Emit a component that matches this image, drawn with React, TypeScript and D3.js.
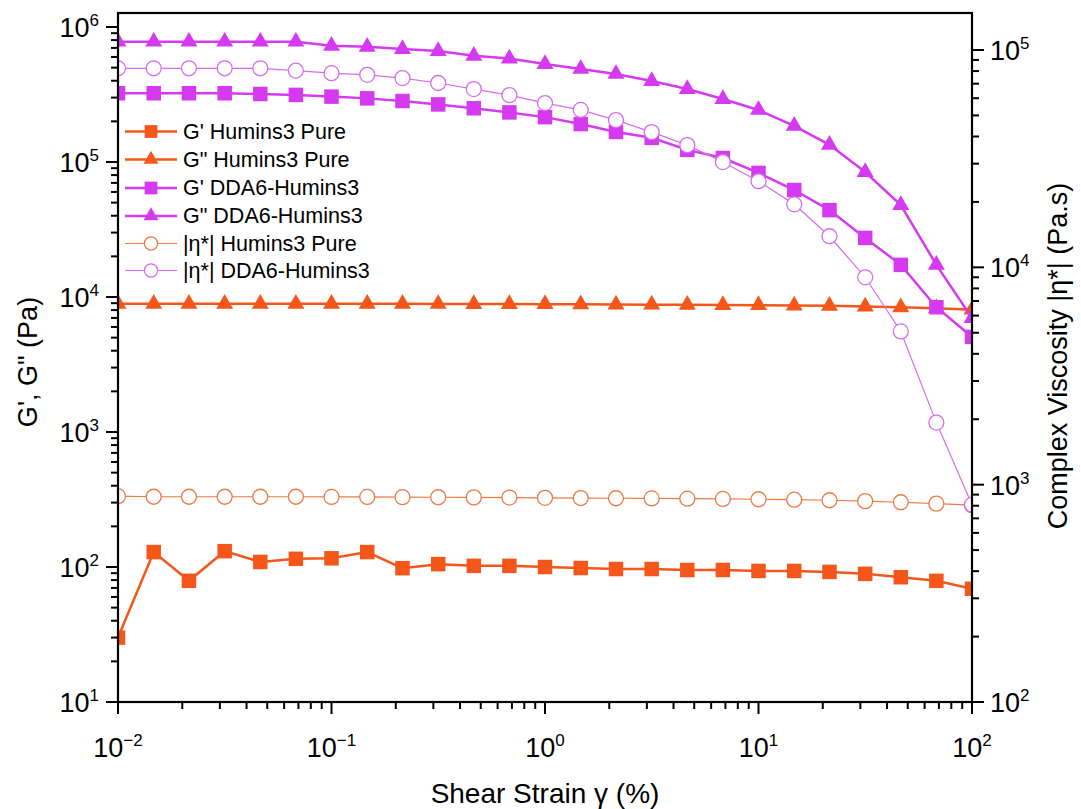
import React from "react";
import * as d3 from "d3";

const strain = [0.01, 0.0147, 0.0215, 0.0316, 0.0464, 0.0681, 0.1, 0.147, 0.215, 0.316, 0.464, 0.681, 1, 1.47, 2.15, 3.16, 4.64, 6.81, 10, 14.7, 21.5, 31.6, 46.4, 68.1, 100];

const gPrimeHumins = [30, 129, 79, 131, 109, 115, 116, 129, 98, 105, 102, 102, 100, 98.3, 96.6, 96.6, 95, 95, 93.5, 93.5, 92, 89, 84, 79, 69];
const gDoublePrimeHumins = [8900, 8900, 8900, 8900, 8900, 8900, 8900, 8900, 8900, 8880, 8870, 8860, 8850, 8820, 8800, 8780, 8750, 8720, 8700, 8650, 8600, 8500, 8400, 8250, 8050];
const gPrimeDDA6 = [323000, 323000, 323000, 323000, 319000, 314000, 305000, 296000, 283000, 267000, 250000, 233000, 215000, 191000, 167000, 151000, 123000, 107000, 83000, 62000, 44000, 27400, 17300, 8400, 5060];
const gDoublePrimeDDA6 = [778000, 778000, 778000, 778000, 778000, 778000, 726000, 714000, 687000, 664000, 612000, 584000, 532000, 489000, 449000, 398000, 347000, 293000, 243000, 185000, 134000, 84300, 48000, 17300, 6980];
const etaHumins = [885, 880, 880, 880, 880, 880, 878, 878, 876, 875, 874, 872, 870, 868, 866, 864, 862, 860, 857, 853, 848, 840, 830, 818, 805];
const etaDDA6 = [82400, 82400, 82400, 82400, 82400, 80400, 78200, 76900, 74300, 70500, 66100, 62000, 57000, 53000, 47600, 41900, 36500, 30500, 24900, 19500, 13900, 9000, 5070, 1930, 809];

const legendLabels = [
  "G' Humins3 Pure",
  'G" Humins3 Pure',
  "G' DDA6-Humins3",
  'G" DDA6-Humins3',
  "|η*| Humins3 Pure",
  "|η*| DDA6-Humins3",
];

const xTickExps = [-2, -1, 0, 1, 2];
const yLeftExps = [1, 2, 3, 4, 5, 6];
const yRightExps = [2, 3, 4, 5];

const ORANGE = "#F5571B";
const ORANGE_LIGHT = "#EE7A45";
const PURPLE = "#D63AF0";
const PURPLE_LIGHT = "#D66DF0";
const FONT = "'Liberation Sans', Arial, Helvetica, sans-serif";

export default function App() {
  const W = 1081, H = 809;
  const L = 118, R = 972, T = 13, B = 702;

  const x = d3.scaleLog().domain([0.01, 100]).range([L, R]);
  const yL = d3.scaleLog().domain([10, Math.pow(10, 6 + 14 / 135)]).range([B, T]);
  const yR = d3.scaleLog().domain([100, Math.pow(10, 5 + 37 / 217.3)]).range([B, T]);

  type Series = {
    data: number[];
    scale: d3.ScaleLogarithmic<number, number>;
    color: string;
    lineWidth: number;
    marker: "square" | "triangle" | "circle";
  };

  const series: Series[] = [
    { data: gPrimeHumins, scale: yL, color: ORANGE, lineWidth: 2.5, marker: "square" },
    { data: gDoublePrimeHumins, scale: yL, color: ORANGE, lineWidth: 2.5, marker: "triangle" },
    { data: gPrimeDDA6, scale: yL, color: PURPLE, lineWidth: 2.5, marker: "square" },
    { data: gDoublePrimeDDA6, scale: yL, color: PURPLE, lineWidth: 2.5, marker: "triangle" },
    { data: etaHumins, scale: yR, color: ORANGE_LIGHT, lineWidth: 1.2, marker: "circle" },
    { data: etaDDA6, scale: yR, color: PURPLE_LIGHT, lineWidth: 1.2, marker: "circle" },
  ];

  const triPath = (size: number) => d3.symbol().type(d3.symbolTriangle).size(size)() as string;

  const renderMarker = (m: string, color: string, cx: number, cy: number, k: string, scale = 1) => {
    if (m === "square") {
      const s = 14.5 * scale;
      return <rect key={k} x={cx - s / 2} y={cy - s / 2} width={s} height={s} fill={color} />;
    }
    if (m === "triangle") {
      return <path key={k} d={triPath(125 * scale * scale)} transform={`translate(${cx},${cy})`} fill={color} />;
    }
    return <circle key={k} cx={cx} cy={cy} r={7.5 * scale} fill="white" stroke={color} strokeWidth={1.3} />;
  };

  const minorTicks = (lo: number, hi: number) => {
    const out: number[] = [];
    for (let e = lo; e < hi; e++) {
      for (let m = 2; m <= 9; m++) out.push(m * Math.pow(10, e));
    }
    return out;
  };

  const line = (s: Series) =>
    d3.line<number>()
      .x((_, i) => x(strain[i]))
      .y((v) => s.scale(v))(s.data) as string;

  const legendRows = [131.5, 159.5, 188, 216, 243.5, 270.5];

  return (
    <svg width={W} height={H} style={{ position: "absolute", left: 0, top: 0, background: "white" }} fontFamily={FONT}>
      <rect x={0} y={0} width={W} height={H} fill="white" />
      <defs>
        <clipPath id="plotClip">
          <rect x={L} y={T} width={R - L} height={B - T} />
        </clipPath>
      </defs>

      <g clipPath="url(#plotClip)">
        {series.map((s, si) => (
          <g key={si}>
            <path d={line(s)} fill="none" stroke={s.color} strokeWidth={s.lineWidth} />
            {s.data.map((v, i) => renderMarker(s.marker, s.color, x(strain[i]), s.scale(v), `${si}-${i}`))}
          </g>
        ))}
      </g>

      {/* frame */}
      <rect x={L} y={T} width={R - L} height={B - T} fill="none" stroke="black" strokeWidth={2.2} />

      {/* bottom ticks */}
      {xTickExps.map((e) => {
        const px = x(Math.pow(10, e));
        return <line key={`xm${e}`} x1={px} x2={px} y1={B} y2={B + 12} stroke="black" strokeWidth={2} />;
      })}
      {minorTicks(-2, 2).map((v, i) => {
        const px = x(v);
        return <line key={`xn${i}`} x1={px} x2={px} y1={B} y2={B + 7} stroke="black" strokeWidth={2} />;
      })}
      {xTickExps.map((e) => (
        <text key={`xl${e}`} x={x(Math.pow(10, e))} y={757} textAnchor="middle" fontSize={27} fill="black">
          <tspan>10</tspan>
          <tspan dy={-11} fontSize={17}>{e < 0 ? `\u2212${-e}` : `${e}`}</tspan>
        </text>
      ))}

      {/* left ticks */}
      {yLeftExps.map((e) => {
        const py = yL(Math.pow(10, e));
        return <line key={`ylm${e}`} x1={L - 12} x2={L} y1={py} y2={py} stroke="black" strokeWidth={2} />;
      })}
      {minorTicks(1, 7).filter((v) => v <= yL.domain()[1]).map((v, i) => {
        const py = yL(v);
        return <line key={`yln${i}`} x1={L - 7} x2={L} y1={py} y2={py} stroke="black" strokeWidth={2} />;
      })}
      {yLeftExps.map((e) => (
        <text key={`yll${e}`} x={99} y={yL(Math.pow(10, e)) + 10} textAnchor="end" fontSize={27} fill="black">
          <tspan>10</tspan>
          <tspan dy={-11} fontSize={17}>{e}</tspan>
        </text>
      ))}

      {/* right ticks */}
      {yRightExps.map((e) => {
        const py = yR(Math.pow(10, e));
        return <line key={`yrm${e}`} x1={R} x2={R + 12} y1={py} y2={py} stroke="black" strokeWidth={2} />;
      })}
      {minorTicks(2, 6).filter((v) => v <= yR.domain()[1]).map((v, i) => {
        const py = yR(v);
        return <line key={`yrn${i}`} x1={R} x2={R + 7} y1={py} y2={py} stroke="black" strokeWidth={2} />;
      })}
      {yRightExps.map((e) => (
        <text key={`yrl${e}`} x={990} y={yR(Math.pow(10, e)) + 10} textAnchor="start" fontSize={27} fill="black">
          <tspan>10</tspan>
          <tspan dy={-11} fontSize={17}>{e}</tspan>
        </text>
      ))}

      {/* axis titles */}
      <text x={545} y={803} textAnchor="middle" fontSize={28} fill="black">Shear Strain γ (%)</text>
      <text transform={`translate(37,362) rotate(-90)`} textAnchor="middle" fontSize={27} fill="black">G', G" (Pa)</text>
      <text transform={`translate(1067,356) rotate(-90)`} textAnchor="middle" fontSize={27} fill="black">Complex Viscosity |η*| (Pa.s)</text>

      {/* legend */}
      {series.map((s, i) => {
        const cy = legendRows[i];
        return (
          <g key={`lg${i}`}>
            <line x1={125} x2={177} y1={cy} y2={cy} stroke={s.color} strokeWidth={s.lineWidth} />
            {renderMarker(s.marker, s.color, 151, cy, `lm${i}`, 0.88)}
            <text x={183} y={cy + 7} fontSize={21.5} fill="black">{legendLabels[i]}</text>
          </g>
        );
      })}
    </svg>
  );
}
